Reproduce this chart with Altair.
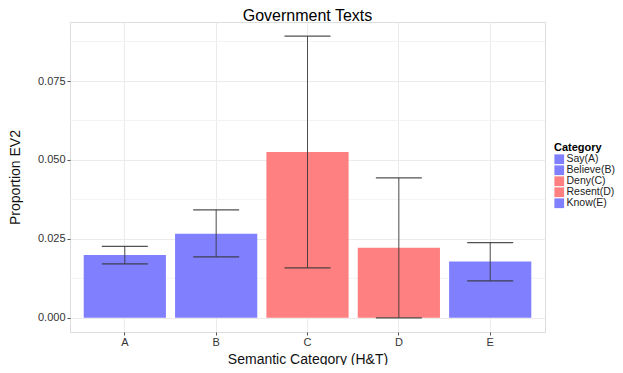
import altair as alt
import pandas as pd

letters = ["A", "B", "C", "D", "E"]
categories = ["Say(A)", "Believe(B)", "Deny(C)", "Resent(D)", "Know(E)"]
values = [0.0199, 0.0266, 0.0525, 0.0222, 0.0178]
err_low = [0.0171, 0.0193, 0.0158, 0.0000, 0.0117]
err_high = [0.0226, 0.0342, 0.0892, 0.0443, 0.0238]
colors = ["#8080FF", "#8080FF", "#FF8080", "#FF8080", "#8080FF"]
y_major = [0.0, 0.025, 0.05, 0.075]
y_minor = [0.0125, 0.0375, 0.0625, 0.0875]

df = pd.DataFrame({"letter": letters, "Category": categories, "value": values,
                   "lo": err_low, "hi": err_high})
minor_df = pd.DataFrame({"v": y_minor})

FONT = "Liberation Sans"
W, H = 475, 310

xscale = alt.Scale(domain=letters, paddingInner=0.1, paddingOuter=0.15)
yscale = alt.Scale(domain=[-0.0045, 0.0937], nice=False, zero=False)

x_enc = alt.X("letter:N", scale=xscale, sort=letters,
              title="Semantic Category (H&T)",
              axis=alt.Axis(labelAngle=0, domain=False, tickSize=3, tickColor="#555",
                            labelColor="#333", labelFontSize=11, labelFont=FONT,
                            labelPadding=1, titleFont=FONT, titleFontSize=14,
                            titleFontWeight="normal", titleColor="#111", titlePadding=5,
                            grid=True, gridColor="#EBEBEB", bandPosition=0.5))

minor = alt.Chart(minor_df).mark_rule(color="#F3F3F3", strokeWidth=1).encode(
    y=alt.Y("v:Q", scale=yscale)
)

bars = alt.Chart(df).mark_bar().encode(
    x=x_enc,
    y=alt.Y("value:Q", scale=yscale, title="Proportion EV2",
            axis=alt.Axis(values=y_major, format=".3f", domain=False, tickSize=3,
                          tickColor="#555", labelColor="#333", labelFontSize=11,
                          labelFont=FONT, labelPadding=2, titleFont=FONT,
                          titleFontSize=14, titleFontWeight="normal", titleColor="#111",
                          titlePadding=15, grid=True, gridColor="#EBEBEB")),
    y2=alt.datum(0),
    color=alt.Color("Category:N", scale=alt.Scale(domain=categories, range=colors),
                    sort=categories,
                    legend=alt.Legend(orient="none", legendX=484, legendY=120,
                                      title="Category", titleFont=FONT, titleFontSize=11,
                                      titleFontWeight="bold", titleColor="#000",
                                      titlePadding=1, labelFont=FONT, labelFontSize=10.5,
                                      labelColor="#222", symbolType="square",
                                      symbolSize=95, symbolStrokeWidth=0,
                                      symbolOpacity=1, rowPadding=-1.5, labelOffset=2)),
)

rules = alt.Chart(df).mark_rule(color="#333", strokeWidth=1, opacity=0.85).encode(
    x=alt.X("letter:N", scale=xscale, sort=letters),
    y=alt.Y("lo:Q", scale=yscale),
    y2="hi:Q",
)
cap_lo = alt.Chart(df).mark_tick(color="#333", thickness=1.2, size=46, opacity=0.85).encode(
    x=alt.X("letter:N", scale=xscale, sort=letters),
    y=alt.Y("lo:Q", scale=yscale),
)
cap_hi = alt.Chart(df).mark_tick(color="#333", thickness=1.2, size=46, opacity=0.85).encode(
    x=alt.X("letter:N", scale=xscale, sort=letters),
    y=alt.Y("hi:Q", scale=yscale),
)

chart = alt.layer(minor, bars, rules, cap_lo, cap_hi).properties(
    width=W, height=H,
    title=alt.TitleParams("Government Texts", font=FONT, fontSize=16,
                          fontWeight="normal", color="#000", anchor="middle",
                          offset=3, dy=5),
    autosize=alt.AutoSizeParams(type="none"),
    padding={"left": 62, "top": 14, "right": 70, "bottom": 33},
).configure_view(stroke="#AAAAAA", strokeWidth=1).configure(background="white")

chart.save("out.html", embed_options={"renderer": "svg", "actions": False})
